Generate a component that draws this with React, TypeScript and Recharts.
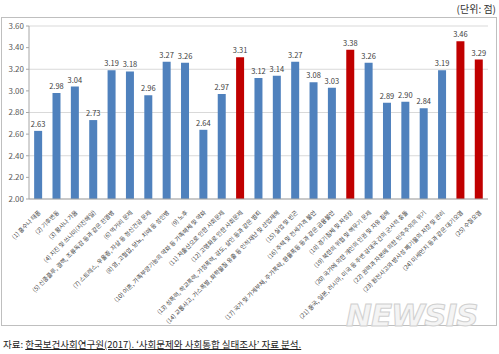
import { BarChart, Bar, XAxis, YAxis, CartesianGrid, Cell, LabelList } from "recharts";

const categories = [
  "(1) 홍수나 태풍",
  "(2) 기후변동",
  "(3) 황사나 가뭄",
  "(4) 지진 및 쓰나미(지진해일)",
  "(5) 신종플루, 결핵, 조류독감 등과 같은 전염병",
  "(6) 먹거리 문제",
  "(7) 스트레스, 우울증, 자살 등 정신건강 문제",
  "(8) 암, 고혈압, 당뇨, 치매 등 성인병",
  "(9) 노후",
  "(10) 이혼, 가족부양기능의 약화 등 가족해체 및 약화",
  "(11) 저출산으로 인한 사회문제",
  "(12) 고령화로 인한 사회문제",
  "(13) 성폭력, 학교폭력, 가정폭력, 강도, 살인 등과 같은 범죄",
  "(14) 교통사고, 가스폭발, 화학물질 유출 등 인적재난 및 산업재해",
  "(15) 실업 및 빈곤",
  "(16) 주택 및 전세가격 불안",
  "(17) 국가 및 가계부채, 주가폭락, 환율폭등 등과 같은 금융불안",
  "(18) 경기침체 및 저성장",
  "(19) 북한의 위협 및 핵무기 문제",
  "(20) 국가에 의한 개인의 인권 및 자유 침해",
  "(21) 중국, 일본, 러시아, 미국 등 주변 강대국 간의 군사적 충돌",
  "(22) 권력과 자본에 의한 민주주의의 위기",
  "(23) 원전사고와 방사성 폐기물의 저장 및 관리",
  "(24) 미세먼지 등과 같은 대기오염",
  "(25) 수질오염",
];

const scores = [
  2.63, 2.98, 3.04, 2.73, 3.19, 3.18, 2.96, 3.27, 3.26, 2.64, 2.97, 3.31, 3.12,
  3.14, 3.27, 3.08, 3.03, 3.38, 3.26, 2.89, 2.9, 2.84, 3.19, 3.46, 3.29,
];

// 붉은색으로 강조된 항목 번호
const highlighted = [12, 18, 24, 25];

const yTicks = [2.0, 2.2, 2.4, 2.6, 2.8, 3.0, 3.2, 3.4, 3.6];

const data = categories.map((name, i) => ({ name, value: scores[i], no: i + 1 }));

const font = "'Noto Sans CJK KR', 'Noto Sans', sans-serif";

const CategoryTick = ({ x, y, payload }: any) => {
  const tx = x + 3;
  const ty = y + 6;
  return (
    <text
      x={tx}
      y={ty}
      transform={`rotate(-45, ${tx}, ${ty})`}
      textAnchor="end"
      fontSize={6}
      fill="#404040"
      fontFamily={font}
    >
      {payload.value}
    </text>
  );
};

export default function App() {
  return (
    <div style={{ position: "absolute", top: 0, left: 0, width: 499, height: 354, background: "#fff" }}>
      <div
        style={{
          position: "absolute",
          right: 3,
          top: 1,
          fontSize: 10,
          fontFamily: font,
          color: "#333",
        }}
      >
        (단위: 점)
      </div>
      <div
        style={{
          position: "absolute",
          left: 1,
          top: 17,
          width: 494,
          height: 307,
          border: "1px solid #bfbfbf",
          overflow: "hidden",
        }}
      >
        <div style={{ position: "absolute", left: -1, top: -17 }}>
          <BarChart
            width={499}
            height={340}
            data={data}
            margin={{ top: 25, right: 12, left: 0, bottom: 0 }}
            barCategoryGap="28%"
          >
            <CartesianGrid vertical={false} stroke="#d9d9d9" />
            <XAxis
              dataKey="name"
              interval={0}
              height={142}
              tick={<CategoryTick />}
              tickLine={false}
              axisLine={{ stroke: "#a6a6a6" }}
            />
            <YAxis
              width={28}
              domain={[2, 3.6]}
              ticks={yTicks}
              tickFormatter={(v: number) => v.toFixed(2)}
              tick={{ fontSize: 8, fill: "#595959", fontFamily: font }}
              tickSize={3}
              tickLine={{ stroke: "#a6a6a6" }}
              axisLine={{ stroke: "#a6a6a6" }}
            />
            <Bar dataKey="value" isAnimationActive={false}>
              {data.map((d) => (
                <Cell key={d.no} fill={highlighted.includes(d.no) ? "#C00000" : "#4F81BD"} />
              ))}
              <LabelList
                dataKey="value"
                position="top"
                offset={4}
                fontSize={7.5}
                fill="#404040"
                fontFamily={font}
                formatter={(v: any) => Number(v).toFixed(2)}
              />
            </Bar>
          </BarChart>
        </div>
      </div>
      <div
        style={{
          position: "absolute",
          left: 346,
          top: 297,
          fontSize: 31,
          fontWeight: 900,
          fontStyle: "italic",
          fontFamily: "'DejaVu Sans', sans-serif",
          color: "#f4f4f4",
          WebkitTextStroke: "1px #d0d0d0",
          letterSpacing: -1,
        }}
      >
        NEWSIS
      </div>
      <div
        style={{
          position: "absolute",
          left: 3,
          top: 337,
          fontSize: 9.5,
          fontFamily: font,
          color: "#222",
          whiteSpace: "nowrap",
        }}
      >
        자료:{" "}
        <span style={{ textDecoration: "underline", paddingRight: 54 }}>
          한국보건사회연구원(2017). ‘사회문제와 사회통합 실태조사’ 자료 분석.
        </span>
      </div>
    </div>
  );
}
